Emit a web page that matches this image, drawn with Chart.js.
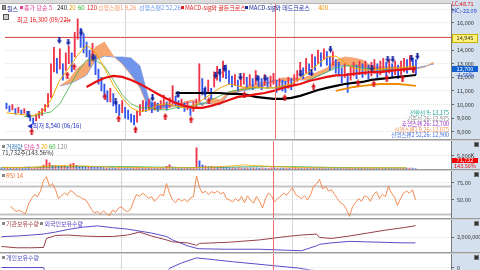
<!DOCTYPE html>
<html>
<head>
<meta charset="utf-8">
<script src="https://cdn.jsdelivr.net/npm/chart.js@4/dist/chart.umd.min.js"></script>
<style>
  body { margin: 0; width: 480px; height: 270px; overflow: hidden; background: #fff; position: relative;
         font-family: "Noto Sans CJK KR", "Noto Sans", sans-serif; }
  .pane { position: absolute; left: 0; width: 480px; overflow: hidden; }
  .pane canvas { position: absolute; left: 0; }
  .t { position: absolute; white-space: nowrap; font-size: 6px; line-height: 6px; }
  .r { position: absolute; white-space: nowrap; font-size: 5.5px; line-height: 5.5px; right: 31px; text-align: right; }
  .sq { display: inline-block; width: 3px; height: 3px; margin-right: 1px; vertical-align: 1px; }
  .sep { position: absolute; left: 0; width: 480px; height: 1px; background: #9a9a9a; border-bottom: 1px solid #d0d0d0; }
  .box { position: absolute; left: 452px; width: 26px; font-size: 5.5px; line-height: 7px; text-align: center; }
  .ico { position: absolute; left: 474px; width: 3px; height: 3px; background: #333; border: 1px solid #777; }
  #axisbg { position: absolute; left: 451px; top: 0; width: 29px; height: 270px; background: #d4e0ed; }
  #tool { position: absolute; left: 0; top: 0; width: 451px; height: 3px; background: #dcdcdc; border-bottom: 1px solid #b4b4b4; }
</style>
</head>
<body>
<div id="axisbg"></div>
<div id="tool"></div>

<div class="pane" id="pricePane" style="top:4px;height:135px"><canvas id="priceChart"></canvas></div>
<div class="sep" style="top:139px"></div>
<div class="pane" id="volPane" style="top:141px;height:28px"><canvas id="volChart"></canvas></div>
<div class="sep" style="top:169px"></div>
<div class="pane" id="rsiPane" style="top:171px;height:47px"><canvas id="rsiChart"></canvas></div>
<div class="sep" style="top:218px"></div>
<div class="pane" id="holdPane" style="top:220px;height:32px"><canvas id="holdChart"></canvas></div>
<div class="sep" style="top:252px"></div>
<div class="pane" id="indivPane" style="top:254px;height:16px"><canvas id="indivChart"></canvas></div>

<!-- price legend -->
<div class="t" style="left:2px;top:5px;color:#1c2c8c"><span class="sq" style="background:#999;border:1px solid #666;width:2px"></span>원스</div>
<div class="t" style="left:20px;top:5px;color:#e0409a"><span class="sq" style="background:#e0409a"></span>종가 단순 5</div>
<div class="t" style="left:57px;top:5px;color:#222">240</div>
<div class="t" style="left:69px;top:5px;color:#f0a000">20</div>
<div class="t" style="left:78px;top:5px;color:#30b030">60</div>
<div class="t" style="left:87px;top:5px;color:#e02020">120</div>
<div class="t" style="left:98px;top:5px;color:#f5a070">선행스팬1 9,26</div>
<div class="t" style="left:139px;top:5px;color:#6a98f0">선행스팬2 52,26</div>
<div class="t" style="left:181px;top:5px;color:#e02020"><span class="sq" style="background:#e02020"></span>MACD-sig와 골든크로스</div>
<div class="t" style="left:245px;top:5px;color:#1c2c9c"><span class="sq" style="background:#1c2c9c"></span>MACD-sig와 데드크로스</div>
<div class="t" style="left:318px;top:5px;color:#f09000">400</div>
<div class="t" style="left:3px;top:14px;width:4px;height:4px;border:1px solid #555;background:#ccc"></div>
<div class="t" style="left:17px;top:17px;color:#e01010">최고 16,300 (09/22)</div>
<div class="t" style="left:64px;top:16.5px;color:#e01010;font-size:7px">→</div>
<div class="t" style="left:27px;top:122.5px;color:#2030c0">◀최저 8,540 (06/16)</div>

<div class="r" style="top:111px;color:#10a090">전환선 9: 13,175</div>
<div class="r" style="top:116.5px;color:#8a8a8a">기준선 26: 12,975</div>
<div class="r" style="top:122px;color:#9a30d0">후행스팬 26: 12,700</div>
<div class="r" style="top:127.5px;color:#f09050">선행스팬1 9,26: 13,075</div>
<div class="r" style="top:133px;color:#4070e0">선행스팬2 52,26: 12,900</div>

<!-- sub panel legends -->
<div class="t" style="left:2px;top:144px;color:#2a78b8"><span class="sq" style="background:#888"></span>거래량 <span style="color:#e0409a">단순 5</span> <span style="color:#f0a000">20</span> <span style="color:#30b030">60</span> <span style="color:#888">120</span></div>
<div class="t" style="left:2px;top:150px;color:#333">71,732주(143.56%)</div>
<div class="t" style="left:2px;top:172.5px;color:#f07830"><span class="sq" style="background:#888"></span>RSI 14</div>
<div class="t" style="left:2px;top:221px;color:#a04040"><span class="sq" style="background:#888"></span>기관보유수량 <span class="sq" style="background:#888"></span><span style="color:#6040c0">외국인보유수량</span></div>
<div class="t" style="left:2px;top:254.5px;color:#5050c0"><span class="sq" style="background:#888"></span>개인보유수량</div>

<!-- right axis labels -->
<div class="box" style="top:1px;color:#e01010;text-align:left">LC:48.71</div>
<div class="box" style="top:8px;color:#2040d0;text-align:left">HC:-22.09</div>
<div class="box" style="top:34px;height:7px;background:#fff27a;border:1px solid #c8b000;width:24px;color:#333">14,945</div>
<div class="box" style="top:66px;height:6px;line-height:6px;background:#1560d0;color:#fff">12,700</div>
<div class="box" style="top:72px;color:#2050d0">-1.55%</div>
<div class="box" style="top:158px;height:5px;line-height:5px;background:#f00000;color:#fff">71,732</div>
<div class="box" style="top:163px;color:#e01010">143.56%</div>
<div class="ico" style="top:142px"></div>
<div class="ico" style="top:172px"></div>
<div class="ico" style="top:221px"></div>
<div class="ico" style="top:255px"></div>

<script>
(function () {
  // ---- price candles (one per trading day, won) ----
  const candleLow = [
    9700, 9500, 9600, 9300, 9400, 9250, 9350, 9100, 8800, 8540,
    8800, 9000, 9200, 9500, 9800, 10500, 12400, 12300, 12600, 11800,
    12500, 13000, 12400, 13500, 14800, 14200, 13800, 13500, 12800, 13200,
    12200, 11500, 11000, 10500, 10200, 10200, 9900, 9400, 9200, 9400,
    9000, 8900, 8700, 8500, 8700, 9200, 9500, 9500, 9600, 9400,
    9600, 9500, 9700, 9900, 9600, 9800, 10000, 9900, 9700, 9800,
    9500, 9600, 9200, 9500, 9700, 10200, 10700, 10400, 10800, 10400,
    11300, 11800, 11700, 12000, 11900, 11500, 11300, 11400, 11000, 11300,
    11500, 11200, 11400, 11100, 11500, 11300, 11100, 11400, 11200, 11300,
    11500, 10900, 11100, 11000, 10900, 11200, 11100, 11400, 11700, 12100,
    11900, 12300, 12200, 12700, 12500, 13000, 12800, 13300, 12900, 12500,
    12900, 12300, 12100, 11600, 12000, 10900, 11800, 12100, 11900, 12200,
    12000, 12200, 11900, 12100, 12300, 12000, 12200, 12400, 12100, 12300,
    12000, 12200, 11900, 12200, 12400, 12300, 12600, 12400, 12200
  ];
  const candleHigh = [
    10100, 9900, 10000, 9700, 9800, 9600, 9700, 9500, 9200, 9000,
    9300, 9500, 9700, 10000, 10800, 13000, 14200, 13400, 14100, 13000,
    13800, 14300, 13800, 15300, 16300, 15600, 15200, 14600, 14000, 14500,
    13600, 12600, 12000, 11500, 11000, 11200, 10800, 10200, 10000, 10300,
    9800, 9600, 9300, 9200, 9500, 10000, 10300, 10200, 10400, 10100,
    10200, 10100, 10300, 10700, 10200, 10500, 11400, 10600, 10300, 10400,
    10100, 10200, 9900, 10200, 10400, 13000, 11900, 11300, 11800, 11200,
    12400, 12800, 12600, 13200, 12900, 12500, 12100, 12200, 11800, 12100,
    12300, 12000, 12200, 11900, 12500, 12100, 11900, 12200, 12000, 12100,
    12300, 11800, 11900, 11800, 11700, 12000, 11900, 12200, 12500, 13100,
    12700, 13400, 13000, 13700, 13500, 14000, 13800, 14100, 13900, 13500,
    13900, 13300, 13100, 12700, 13000, 12300, 12800, 13100, 12900, 13200,
    13000, 13200, 12900, 13100, 13300, 13000, 13200, 13400, 13100, 13300,
    13000, 13200, 12900, 13200, 13400, 13300, 13600, 13400, 13300
  ];

  // ---- moving averages, sampled every 3rd day ----
  const maIdx = [
    0, 3, 6, 9, 12, 15, 18, 21, 24, 27, 30, 33, 36, 39, 42, 45, 48, 51, 54, 57,
    60, 63, 66, 69, 72, 75, 78, 81, 84, 87, 90, 93, 96, 99, 102, 105, 108, 111,
    114, 117, 120, 123, 126, 129, 132, 135, 138
  ];
  const ma20 = [
    9390, 9320, 9240, 9170, 9460, 10340, 11810, 12680, 13640, 14370,
    13860, 12680, 11440, 10490, 9760, 9460, 9610, 9980, 10050, 9900,
    9760, 9900, 10340, 10780, 11220, 11510, 11370, 11220, 11290, 11220,
    11220, 11370, 11510, 11950, 12390, 12980, 13490, 13560, 13120, 12680,
    12540, 12540, 12610, 12680, 12680, 12760, 12830
  ];
  const ma60 = [
    null, null, 9100, 9170, 9320, 9460, 10050, 11220, 12390, 13270,
    13270, 12830, 11810, 10710, 10050, 9760, 9760, 9610, 9610, 9760,
    9830, 9900, 10050, 10340, 10640, 10930, 11070, 11150, 11220, 11220,
    11220, 11290, 11370, 11510, 11810, 12100, 12390, 12680, 12830, 12830,
    12680, 12610, 12540, 12540, 12540, 12610, 12680
  ];
  const ma120 = [
    null, null, null, null, null, null, null, null, null,
    11290, 11660, 11950, 12100, 12030, 11810, 11510, 11150, 10780, 10420,
    10120, 9900, 9760, 9760, 9900, 10090, 10340, 10560, 10640, 10750,
    10850, 11000, 11220, 11370, 11510, 11730, 11880, 12030, 12140, 12170,
    12250, 12320, 12390, 12390, 12470, 12540, 12610, 12680
  ];
  const ma240 = [
    null, null, null, null, null, null, null, null, null, null,
    null, null, null, null, null, null, null, null, null,
    10850, 10850, 10850, 10850, 10850, 10850, 10780, 10780, 10710, 10560,
    10490, 10420, 10420, 10490, 10640, 10850, 11070, 11220, 11370, 11510,
    11590, 11660, 11810, 11880, 11950, 12030, 12100, 12170
  ];
  const ma400 = [
    null, null, null, null, null, null, null, null, null, null,
    null, null, null, null, null, null, null, null, null, null,
    null, null, null, null, null, null, null, null, null, null,
    null, null, null, null, null, null, null,
    11000, 11150, 11290, 11370, 11440, 11510, 11510, 11510, 11440, 11370
  ];

  // ---- ichimoku leading spans (run 26 days past the last candle) ----
  const cloudIdx = [
    18, 21, 24, 27, 30, 33, 36, 39, 42, 45, 48, 51, 54, 57, 60, 63, 66, 69, 72, 75,
    78, 81, 84, 87, 90, 93, 96, 99, 102, 105, 108, 111, 114, 117, 120, 123, 126,
    129, 132, 135, 138, 141, 144
  ];
  const span1 = [
    11370, 11810, 12680, 13120, 14220, 14590, 13560, 12980, 12170, 11220,
    9610, 9610, 9760, 9900, 10200, 10340, 9900, 10490, 10340, 10930,
    11070, 11370, 11510, 11660, 11660, 11950, 11950, 11880, 12100, 12390,
    12680, 13270, 13490, 13420, 13270, 12830, 12760, 12760, 12760, 12680,
    12610, 12760, 13120
  ];
  const span2 = [
    11370, 11510, 11810, 12170, 13270, 13560, 13490, 13490, 13420, 12830,
    10340, 9980, 10050, 9900, 10050, 10200, 10120, 10050, 9980, 10780,
    10930, 11070, 11220, 11370, 11810, 11660, 11810, 11810, 11810, 12100,
    12390, 12830, 12900, 12830, 12760, 12610, 12540, 12610, 12540, 12540,
    12680, 12830, 12980
  ];

  // ---- MACD/signal cross markers ----
  const deadIdx = [7.5, 17.8, 20.8, 25.2, 29.2, 36.8, 49.2, 57.8, 66.8, 70.5, 71.8, 73.5,
    78.8, 84.5, 87.2, 99.2, 102.8, 109.2, 123.2, 128.5, 130.2, 136.5, 138.5];
  const deadVal = [9240, 14730, 14590, 15320, 13490, 10200, 10490, 10710, 10930, 12170, 12390, 12680,
    12030, 11950, 11950, 12250, 12320, 14080, 12680, 13340, 13340, 13420, 13560];
  const goldenIdx = [8.5, 20.5, 22.8, 33.2, 37.8, 43.5, 53.5, 62.2, 68.2, 80.2, 93.8, 103.5,
    118.5, 123.8, 128.2, 133.5, 137.2];
  const goldenVal = [8000, 12170, 12760, 10560, 8950, 8150, 9100, 8880, 10270, 10710, 10490, 11290,
    11590, 11510, 11950, 11950, 12540];

  const highLine = [14945];          // 최고 기준선
  const periodDividers = [39.8, 96.8];
  const cursorDay = 90.5;
  const priceTicks = [8000, 9000, 10000, 11000, 12000, 13000, 14000, 15000, 16000, 17000];

  // ---- volume (thousand shares) ----
  const volume = [
    450, 380, 520, 300, 410, 360, 480, 390, 620, 700, 450, 380, 500, 620,
    1400, 3500, 2300, 1300, 1100, 900, 1000, 1200, 800, 1800, 2100, 1300, 900, 700,
    800, 650, 700, 600, 550, 500, 420, 380, 450, 400, 350, 420, 380, 300, 350, 420,
    380, 450, 400, 350, 300, 280, 320, 290, 310, 350, 300, 900, 1500, 600, 400, 350,
    300, 280, 350, 320, 400, 8200, 3100, 1400, 1000, 800, 900, 750, 700, 800, 650,
    500, 450, 420, 380, 400, 350, 330, 360, 300, 320, 300, 280, 300, 270, 290, 310,
    300, 280, 260, 250, 270, 260, 300, 320, 350, 300, 380, 320, 400, 350, 420, 380,
    500, 380, 300, 350, 300, 280, 320, 260, 400, 300, 280, 250, 270, 240, 260, 230,
    250, 270, 230, 240, 260, 230, 250, 220, 240, 230, 250, 260, 240, 270, 250, 72
  ];
  const volMaIdx = [0, 9, 18, 27, 36, 45, 54, 63, 72, 81, 90, 99, 108, 117, 126, 135];
  const volMa20 = [500, 480, 1200, 1100, 600, 420, 380, 350, 700, 1500, 900, 420, 330, 300, 350, 280];
  const volMa60 = [500, 500, 700, 850, 900, 800, 600, 450, 500, 750, 900, 800, 550, 400, 350, 320];
  const volTicks = [5000];

  // ---- RSI 14 ----
  const rsi = [
    null, null, null, 41, 36, 33, 35, 32, 30, 44, 52, 58, 55, 63, 78, 84, 70, 74, 65, 52,
    56, 60, 57, 64, 61, 56, 55, 52, 50, 44, 36, 31, 33, 29, 34, 30, 27, 35, 32, 38,
    40, 35, 33, 36, 48, 58, 55, 60, 57, 52, 55, 48, 53, 58, 56, 74, 60, 50, 46, 52,
    48, 51, 47, 53, 55, 85, 68, 60, 63, 58, 62, 60, 63, 59, 61, 52, 50, 47, 52, 48,
    55, 46, 56, 50, 45, 55, 48, 38, 52, 60, 56, 47, 52, 55, 60, 57, 62, 68, 58, 55,
    52, 56, 50, 57, 70, 73, 80, 66, 70, 63, 65, 58, 52, 46, 43, 36, 26, 40, 46, 52,
    48, 56, 54, 48, 58, 62, 52, 58, 55, 70, 60, 54, 42, 52, 60, 63, 60, 65, 50
  ];
  const rsiGuides = [70, 30];
  const rsiTicks = [50, 75];

  // ---- holdings (shares) ----
  const holdIdx = [0, 5, 10, 14, 15, 18, 22, 27, 32, 37, 42, 46, 50, 55, 57, 62, 65, 66, 75, 86,
    95, 100, 105, 106, 110, 116, 122, 128, 134, 138];
  const instHold = [1060000, 930000, 930000, 960000, 1880000, 2180000, 2230000, 2130000, 2080000, 2080000,
    2230000, 2530000, 2130000, 1730000, 1530000, 1430000, 1180000, 1380000, 1480000, 1730000,
    2080000, 2230000, 2330000, 1980000, 1880000, 2130000, 2430000, 2730000, 2980000, 3180000];
  const foreignHold = [2060000, 2130000, 2230000, 2330000, 2380000, 2530000, 2780000, 3030000, 3160000, 2980000,
    2830000, 2630000, 2430000, 2080000, 1730000, 1130000, 880000, 830000, 780000, 780000,
    680000, 630000, 1130000, 1280000, 1430000, 1580000, 1530000, 1480000, 1430000, 1430000];
  const holdTicks = [2000000];
  const indivIdx = [0, 7, 14, 15, 55, 56, 60, 65, 77, 88, 99, 103, 138];
  const indivHold = [30000, 20000, 30000, -900000, -900000, -50000, 500000, 1030000, 630000, 300000,
    -30000, -250000, -900000];
  const indivTicks = [0];

  // ---- shared settings ----
  const FONT = '"Noto Sans CJK KR", "Noto Sans", sans-serif';
  const X_MIN = -0.5, X_MAX = 149.83;
  const PAD = 6;
  const UP = "#ee3448", DOWN = "#3456ec";

  Chart.defaults.font.family = FONT;
  Chart.defaults.elements.point.radius = 0;
  Chart.defaults.elements.line.tension = 0;

  const pts = (idx, vals) =>
    idx.map((x, k) => ({ x: x, y: vals[k] })).filter((p) => p.y !== null);

  // gray dividers, level lines, red cursor line
  const guides = {
    id: "guides",
    beforeDatasetsDraw(chart, args, opts) {
      const { ctx, chartArea: a, scales } = chart;
      ctx.save();
      ctx.beginPath();
      ctx.rect(a.left, a.top, a.right - a.left, a.bottom - a.top);
      ctx.clip();
      periodDividers.forEach((v) => {
        const px = Math.round(scales.x.getPixelForValue(v)) + 0.5;
        ctx.strokeStyle = "#d6d6d6";
        ctx.lineWidth = 1;
        ctx.beginPath(); ctx.moveTo(px, a.top); ctx.lineTo(px, a.bottom); ctx.stroke();
      });
      (opts.levels || []).forEach((v) => {
        const py = Math.round(scales.y.getPixelForValue(v)) + 0.5;
        ctx.strokeStyle = opts.levelColor;
        ctx.lineWidth = opts.levelWidth;
        ctx.beginPath(); ctx.moveTo(a.left, py); ctx.lineTo(a.right, py); ctx.stroke();
      });
      ctx.restore();
    },
    afterDatasetsDraw(chart) {
      const { ctx, chartArea: a, scales } = chart;
      const px = Math.round(scales.x.getPixelForValue(cursorDay)) + 0.5;
      ctx.save();
      ctx.strokeStyle = "#f07070";
      ctx.lineWidth = 1;
      ctx.beginPath(); ctx.moveTo(px, a.top - PAD); ctx.lineTo(px, a.bottom + PAD); ctx.stroke();
      ctx.restore();
    },
  };
  Chart.register(guides);

  // right-hand axis with an explicit list of tick values
  function yAxis(min, max, tickValues, label) {
    return {
      position: "right",
      min: min,
      max: max,
      afterFit: (s) => { s.width = 29; },
      afterBuildTicks: (s) => { s.ticks = tickValues.map((v) => ({ value: v })); },
      border: { display: true, color: "#777", dash: [1, 1] },
      grid: { color: "#e4e4e4", tickColor: "#666", tickLength: 3 },
      ticks: {
        padding: 3,
        color: "#333",
        font: { size: 5.5, family: FONT },
        callback: (v) => label(v),
      },
    };
  }

  function makeChart(id, height, cfg) {
    const c = document.getElementById(id);
    c.width = 480;
    c.height = height + PAD * 2;
    c.style.top = -PAD + "px";
    cfg.options = Object.assign(
      {
        responsive: false,
        animation: false,
        layout: { padding: { top: PAD, bottom: PAD, left: 0, right: 0 } },
        plugins: { legend: { display: false }, tooltip: { enabled: false } },
      },
      cfg.options
    );
    cfg.options.plugins.guides = cfg.guides || {};
    return new Chart(c, cfg);
  }

  const xAxis = { type: "linear", min: X_MIN, max: X_MAX, display: false, offset: false };
  const fmt = (v) => v.toLocaleString("en-US");

  function arrowImg(color, down) {
    const c = document.createElement("canvas");
    c.width = 5; c.height = 7;
    const g = c.getContext("2d");
    g.fillStyle = color;
    g.beginPath();
    if (down) {
      g.fillRect(1.5, 0, 2, 4);
      g.moveTo(0, 3.5); g.lineTo(5, 3.5); g.lineTo(2.5, 7);
    } else {
      g.fillRect(1.5, 3, 2, 4);
      g.moveTo(0, 3.5); g.lineTo(5, 3.5); g.lineTo(2.5, 0);
    }
    g.fill();
    return c;
  }

  const candleColors = candleLow.map((lo, i) => {
    if (i === 0) return DOWN;
    const mid = (lo + candleHigh[i]) / 2;
    const prev = (candleLow[i - 1] + candleHigh[i - 1]) / 2;
    return mid >= prev ? UP : DOWN;
  });

  // ---- price panel ----
  makeChart("priceChart", 135, {
    type: "bar",
    data: {
      datasets: [
        { type: "line", data: pts(deadIdx, deadVal), showLine: false, pointRadius: 3,
          pointStyle: arrowImg("#14239a", true), order: 0 },
        { type: "line", data: pts(goldenIdx, goldenVal), showLine: false, pointRadius: 3,
          pointStyle: arrowImg("#d8101a", false), order: 0 },
        { type: "line", data: pts(maIdx, ma120), borderColor: "#e81010", borderWidth: 2.2, order: 1 },
        { type: "line", data: pts(maIdx, ma240), borderColor: "#000", borderWidth: 2.2, order: 1 },
        { type: "line", data: pts(maIdx, ma400), borderColor: "#f08c00", borderWidth: 1.8, order: 1 },
        { type: "line", data: pts(maIdx, ma20), borderColor: "#f0a800", borderWidth: 1, order: 2 },
        { type: "line", data: pts(maIdx, ma60), borderColor: "#40b040", borderWidth: 0.8, order: 2 },
        { type: "bar", data: candleLow.map((lo, i) => ({ x: i, y: [lo, candleHigh[i]] })),
          backgroundColor: candleColors, barThickness: 1.2, order: 3 },
        { type: "line", data: pts(cloudIdx, span1), borderColor: "#f5a070", borderWidth: 0.8,
          fill: { target: "+1", above: "rgba(246,158,96,0.9)", below: "rgba(96,138,232,0.9)" }, order: 5 },
        { type: "line", data: pts(cloudIdx, span2), borderColor: "#6a98f0", borderWidth: 0.8, order: 6 },
      ],
    },
    options: {
      scales: {
        x: xAxis,
        y: yAxis(7488, 17370, priceTicks, (v) => (v >= 17000 || v === 15000 ? "" : fmt(v))),
      },
    },
    guides: { levels: highLine, levelColor: "#e05050", levelWidth: 1 },
  });

  // ---- volume panel ----
  makeChart("volChart", 28, {
    type: "bar",
    data: {
      datasets: [
        { type: "line", data: pts(volMaIdx, volMa20), borderColor: "#f0b000", borderWidth: 0.8, order: 0 },
        { type: "line", data: pts(volMaIdx, volMa60), borderColor: "#40b060", borderWidth: 0.8, order: 0 },
        { type: "bar", data: volume.map((v, i) => ({ x: i, y: v })),
          backgroundColor: candleColors, barThickness: 1.2, order: 1 },
      ],
    },
    options: {
      scales: { x: xAxis, y: yAxis(0, 10770, volTicks, (v) => fmt(v) + "K") },
    },
  });

  // ---- RSI panel ----
  makeChart("rsiChart", 47, {
    type: "line",
    data: {
      datasets: [
        { data: rsi.map((v, i) => ({ x: i, y: v })).filter((p) => p.y !== null),
          borderColor: "#f08040", borderWidth: 0.9 },
      ],
    },
    options: {
      scales: { x: xAxis, y: yAxis(24, 91.9, rsiTicks, (v) => v.toFixed(2)) },
    },
    guides: { levels: rsiGuides, levelColor: "#c4c4c4", levelWidth: 2 },
  });

  // ---- institution / foreign holdings ----
  makeChart("holdChart", 32, {
    type: "line",
    data: {
      datasets: [
        { data: pts(holdIdx, instHold), borderColor: "#96404a", borderWidth: 1 },
        { data: pts(holdIdx, foreignHold), borderColor: "#5a4cc8", borderWidth: 1 },
      ],
    },
    options: {
      scales: { x: xAxis, y: yAxis(530000, 3730000, holdTicks, fmt) },
    },
  });

  // ---- individual holdings ----
  makeChart("indivChart", 16, {
    type: "line",
    data: {
      datasets: [{ data: pts(indivIdx, indivHold), borderColor: "#5a4cc8", borderWidth: 1 }],
    },
    options: {
      scales: { x: xAxis, y: yAxis(-200000, 1400000, indivTicks, fmt) },
    },
  });
})();
</script>
</body>
</html>
